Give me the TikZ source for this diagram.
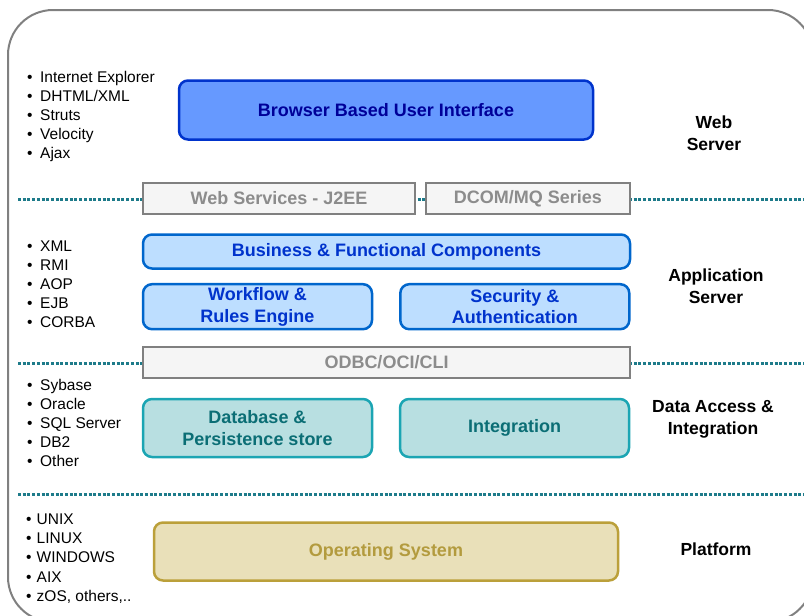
\documentclass[tikz,border=0pt]{standalone}
\usepackage{fontspec}
\setmainfont{Liberation Sans}
\definecolor{framegray}{HTML}{808080}
\definecolor{septeal}{HTML}{1E7B8A}
\definecolor{uifill}{HTML}{6699FF}
\definecolor{uidraw}{HTML}{0033CC}
\definecolor{uitext}{HTML}{000099}
\definecolor{appfill}{HTML}{BDDEFF}
\definecolor{appdraw}{HTML}{0066CC}
\definecolor{apptext}{HTML}{0033CC}
\definecolor{ifill}{HTML}{F5F5F5}
\definecolor{itext}{HTML}{8C8C8C}
\definecolor{datafill}{HTML}{B8DFE1}
\definecolor{datadraw}{HTML}{1BA5B3}
\definecolor{datatext}{HTML}{0B6E75}
\definecolor{osfill}{HTML}{E9E0B9}
\definecolor{osdraw}{HTML}{BBA03A}
\definecolor{ostext}{HTML}{B39B3E}
\newcommand\bul[1]{\makebox[#1][l]{\textbullet}}
\begin{document}
\begin{tikzpicture}[x=1pt,y=-1pt,
  techitem/.style={anchor=west,inner sep=0pt,text height=12pt,text depth=1pt,
    font=\fontsize{15.5}{19}\selectfont},
  layerlbl/.style={align=center,font=\fontsize{17.5}{22}\selectfont\bfseries},
  tierbox/.style={draw,line width=2.5pt,rounded corners=9pt,align=center,inner sep=0pt,
    font=\fontsize{18}{21.7}\selectfont\bfseries},
  uibox/.style={tierbox,fill=uifill,draw=uidraw,text=uitext},
  appbox/.style={tierbox,fill=appfill,draw=appdraw,text=apptext},
  ifbox/.style={tierbox,rounded corners=0pt,fill=ifill,draw=framegray,text=itext,minimum height=31pt},
  databox/.style={tierbox,fill=datafill,draw=datadraw,text=datatext},
  osbox/.style={tierbox,fill=osfill,draw=osdraw,text=ostext},
  sepline/.style={line width=3pt,dash pattern=on 3pt off 1.7pt,septeal}]
\useasboundingbox (0,0) rectangle (804,616);
\clip (0,0) rectangle (804,616);
\draw[framegray,line width=2pt,rounded corners=45pt] (8,10) rectangle (813,622);

% separators between the tiers
\draw[sepline] (18,199) -- (810,199);
\draw[sepline] (18,363) -- (810,363);
\draw[sepline] (18,494) -- (810,494);

% web server
\node[uibox,minimum width=414pt,minimum height=59pt] (ui) at (386,110) {Browser Based User Interface};
\node[ifbox,minimum width=272pt] (ws) at (279,198.5) {Web Services - J2EE};
\node[ifbox,minimum width=204pt] (dcom) at (528,198.5) {DCOM/MQ Series};
\node[layerlbl] (web) at (714,133) {Web\\Server};
\foreach \t [count=\i] in {Internet Explorer, DHTML/XML, Struts, Velocity, Ajax}
  \node[techitem] (webtech\i) at (27,{77+19*(\i-1)}) {\bul{13pt}\t};

% application server
\node[appbox,minimum width=487pt,minimum height=34pt] (bus) at (386.5,251.5) {Business \& Functional Components};
\node[appbox,minimum width=229pt,minimum height=45pt] (wf) at (257.5,306.7) {Workflow \&\\Rules Engine};
\node[appbox,minimum width=229pt,minimum height=45pt] (sec) at (514.8,306.7) {Security \&\\Authentication};
\node[ifbox,minimum width=487pt] (odbc) at (386.5,362.3) {ODBC/OCI/CLI};
\node[layerlbl] (app) at (716,286.7) {Application\\Server};
\foreach \t [count=\i] in {XML, RMI, AOP, EJB, CORBA}
  \node[techitem] (apptech\i) at (27,{246+19*(\i-1)}) {\bul{13pt}\t};

% data access
\node[databox,minimum width=229pt,minimum height=58pt] (db) at (257.5,428) {Database \&\\Persistence store};
\node[databox,minimum width=229pt,minimum height=58pt] (integ) at (514.5,428) {Integration};
\node[layerlbl] (data) at (713,419) {Data Access \&\\Integration};
\foreach \t [count=\i] in {Sybase, Oracle, SQL Server, DB2, Other}
  \node[techitem] (datatech\i) at (27,{385+19*(\i-1)}) {\bul{13pt}\t};

% platform
\node[osbox,minimum width=464pt,minimum height=58pt] (os) at (386,551.5) {Operating System};
\node[layerlbl] (plat) at (716,549) {Platform};
\foreach \t [count=\i] in {UNIX, LINUX, WINDOWS, AIX, {zOS, others,..}}
  \node[techitem] (plattech\i) at (26,{519+19.2*(\i-1)}) {\bul{10.5pt}\t};
\end{tikzpicture}
\end{document}
